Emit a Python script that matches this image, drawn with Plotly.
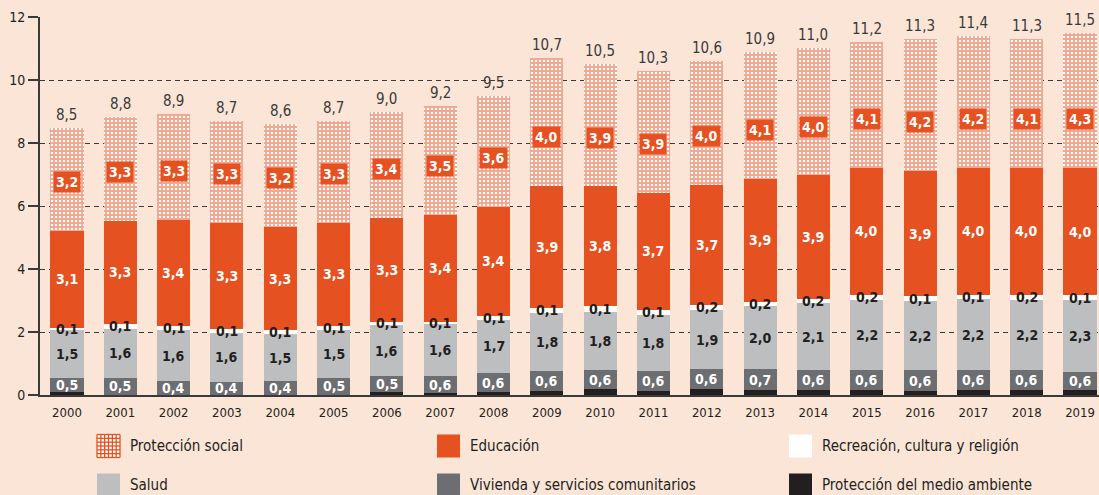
import plotly.graph_objects as go

# ---------------- data ----------------
years = list(range(2000, 2020))

medio_ambiente = [0.10, 0.01, 0.01, 0.01, 0.01, 0.01, 0.09, 0.06, 0.09, 0.14,
                  0.18, 0.14, 0.18, 0.17, 0.17, 0.17, 0.14, 0.17, 0.17, 0.17]
vivienda = [0.45, 0.53, 0.42, 0.40, 0.42, 0.53, 0.50, 0.53, 0.61, 0.61,
            0.61, 0.61, 0.64, 0.64, 0.61, 0.61, 0.64, 0.61, 0.61, 0.55]
salud = [1.50, 1.56, 1.63, 1.57, 1.50, 1.53, 1.63, 1.65, 1.68, 1.86,
         1.86, 1.79, 1.88, 2.02, 2.13, 2.24, 2.20, 2.26, 2.24, 2.29]
recreacion = [0.07, 0.15, 0.14, 0.13, 0.13, 0.13, 0.11, 0.08, 0.14, 0.16,
              0.16, 0.16, 0.16, 0.13, 0.14, 0.16, 0.16, 0.14, 0.16, 0.16]
educacion = [3.10, 3.28, 3.36, 3.35, 3.27, 3.26, 3.28, 3.40, 3.45, 3.87,
             3.81, 3.72, 3.81, 3.90, 3.92, 4.03, 3.97, 4.03, 4.03, 4.03]
proteccion = [3.27, 3.28, 3.35, 3.25, 3.27, 3.25, 3.39, 3.47, 3.53, 4.06,
              3.88, 3.88, 3.93, 4.04, 4.04, 4.00, 4.19, 4.20, 4.10, 4.30]

lbl_vivienda = ["0,5", "0,5", "0,4", "0,4", "0,4", "0,5", "0,5", "0,6", "0,6", "0,6",
                "0,6", "0,6", "0,6", "0,7", "0,6", "0,6", "0,6", "0,6", "0,6", "0,6"]
lbl_salud = ["1,5", "1,6", "1,6", "1,6", "1,5", "1,5", "1,6", "1,6", "1,7", "1,8",
             "1,8", "1,8", "1,9", "2,0", "2,1", "2,2", "2,2", "2,2", "2,2", "2,3"]
lbl_recreacion = ["0,1", "0,1", "0,1", "0,1", "0,1", "0,1", "0,1", "0,1", "0,1", "0,1",
                  "0,1", "0,1", "0,2", "0,2", "0,2", "0,2", "0,1", "0,1", "0,2", "0,1"]
lbl_educacion = ["3,1", "3,3", "3,4", "3,3", "3,3", "3,3", "3,3", "3,4", "3,4", "3,9",
                 "3,8", "3,7", "3,7", "3,9", "3,9", "4,0", "3,9", "4,0", "4,0", "4,0"]
lbl_proteccion = ["3,2", "3,3", "3,3", "3,3", "3,2", "3,3", "3,4", "3,5", "3,6", "4,0",
                  "3,9", "3,9", "4,0", "4,1", "4,0", "4,1", "4,2", "4,2", "4,1", "4,3"]
lbl_total = ["8,5", "8,8", "8,9", "8,7", "8,6", "8,7", "9,0", "9,2", "9,5", "10,7",
             "10,5", "10,3", "10,6", "10,9", "11,0", "11,2", "11,3", "11,4", "11,3", "11,5"]

y_ticks = [0, 2, 4, 6, 8, 10, 12]

# ---------------- style ----------------
BG = "#FBE5D7"
ORANGE = "#E55121"
LIGHT = "#BCBEC0"
DARK = "#6D6E71"
BLACK = "#231F20"
WHITE = "#FFFFFF"
TXT = "#231F20"
FONT = "Liberation Sans Narrow, DejaVu Sans Condensed, Arial Narrow, sans-serif"

W, H = 1099, 495
L, R, T, B = 40, 0, 17, 100
BARW = 0.62

fig = go.Figure()

series = [
    ("Protección del medio ambiente", medio_ambiente, BLACK),
    ("Vivienda y servicios comunitarios", vivienda, DARK),
    ("Salud", salud, LIGHT),
    ("Recreación, cultura y religión", recreacion, WHITE),
    ("Educación", educacion, ORANGE),
]
for name, vals, col in series:
    fig.add_trace(go.Bar(x=years, y=vals, name=name, width=BARW,
                         marker=dict(color=col, line=dict(width=0)),
                         showlegend=False, hoverinfo="skip"))

fig.add_trace(go.Bar(x=years, y=proteccion, name="Protección social", width=BARW,
                     marker=dict(color=WHITE, line=dict(width=0),
                                 pattern=dict(shape="+", fgcolor=ORANGE, bgcolor=WHITE,
                                              size=4, solidity=0.72)),
                     showlegend=False, hoverinfo="skip"))

# ---------------- labels ----------------
ann = []
for i, yr in enumerate(years):
    b0 = medio_ambiente[i]
    b1 = b0 + vivienda[i]
    b2 = b1 + salud[i]
    b3 = b2 + recreacion[i]
    b4 = b3 + educacion[i]
    top = b4 + proteccion[i]
    bold = dict(family=FONT, size=14, weight=700)
    ann.append(dict(x=yr, y=(b0 + b1) / 2, text=lbl_vivienda[i], showarrow=False,
                    font=dict(bold, color=WHITE)))
    ann.append(dict(x=yr, y=(b1 + b2) / 2, text=lbl_salud[i], showarrow=False,
                    font=dict(bold, color=TXT)))
    ann.append(dict(x=yr, y=(b2 + b3) / 2, text=lbl_recreacion[i], showarrow=False,
                    font=dict(bold, color=TXT)))
    ann.append(dict(x=yr, y=(b3 + b4) / 2, text=lbl_educacion[i], showarrow=False,
                    font=dict(bold, color=WHITE)))
    ann.append(dict(x=yr, y=b4 + 1.55, text=lbl_proteccion[i], showarrow=False,
                    font=dict(bold, color=WHITE), bgcolor=ORANGE, borderpad=2))
    ann.append(dict(x=yr, y=top, text=lbl_total[i], showarrow=False, yanchor="bottom",
                    yshift=2, font=dict(family=FONT, size=15, color="#3A3A3A")))

# ---------------- custom legend ----------------
plot_h = H - T - B
def px(xp):
    return (xp - L) / (W - L - R)
def py(yp):
    return (H - B - yp) / plot_h

shapes = []
legend_items = [
    ("Protección social", None, 97, 446),
    ("Educación", ORANGE, 437, 446),
    ("Recreación, cultura y religión", WHITE, 789, 446),
    ("Salud", LIGHT, 97, 485),
    ("Vivienda y servicios comunitarios", DARK, 437, 485),
    ("Protección del medio ambiente", BLACK, 789, 485),
]
SW = 23
for label, col, x0, yc in legend_items:
    y0, y1 = yc - SW / 2, yc + SW / 2
    shapes.append(dict(type="rect", xref="paper", yref="paper",
                       x0=px(x0), x1=px(x0 + SW), y0=py(y1), y1=py(y0),
                       fillcolor=col if col else WHITE, line=dict(width=0), layer="above"))
    if col is None:
        step = SW / 6
        for k in range(7):
            xx = x0 + k * step
            shapes.append(dict(type="line", xref="paper", yref="paper",
                               x0=px(xx), x1=px(xx), y0=py(y1), y1=py(y0),
                               line=dict(color=ORANGE, width=1.3), layer="above"))
            yy = y0 + k * step
            shapes.append(dict(type="line", xref="paper", yref="paper",
                               x0=px(x0), x1=px(x0 + SW), y0=py(yy), y1=py(yy),
                               line=dict(color=ORANGE, width=1.3), layer="above"))
    ann.append(dict(xref="paper", yref="paper", x=px(x0 + SW + 8), y=py(yc),
                    xanchor="left", yanchor="middle", text=label, showarrow=False,
                    font=dict(family=FONT, size=15, color=TXT)))

fig.update_layout(
    width=W, height=H,
    margin=dict(l=L, r=R, t=T, b=B),
    paper_bgcolor=BG, plot_bgcolor=BG,
    barmode="stack", bargap=0,
    showlegend=False,
    annotations=ann, shapes=shapes,
    font=dict(family=FONT, color=TXT),
    xaxis=dict(range=[1999.494, 2019.356], tickvals=years, ticktext=[str(y) for y in years],
               showgrid=False, zeroline=False, showline=True, linecolor="#3A3A3A",
               linewidth=2, ticks="", ticklabelstandoff=4,
               tickfont=dict(family=FONT, size=13, color=TXT), fixedrange=True),
    yaxis=dict(range=[0, 12], tickvals=y_ticks, showgrid=True, gridcolor="#3A3A3A",
               gridwidth=1.2, griddash="5px,4px", zeroline=False, showline=True,
               linecolor="#3A3A3A", linewidth=2, ticks="outside", ticklen=10,
               tickwidth=1.5, tickcolor="#3A3A3A",
               tickfont=dict(family=FONT, size=14, color=TXT), fixedrange=True),
)

fig.write_html("out.html", config={"displayModeBar": False})

# remove the default page margin so the figure sits at the window's top-left corner
with open("out.html", encoding="utf-8") as f:
    html = f.read()
html = html.replace("<head>", "<head><style>html,body{margin:0;padding:0;overflow:hidden;}</style>", 1)
with open("out.html", "w", encoding="utf-8") as f:
    f.write(html)
